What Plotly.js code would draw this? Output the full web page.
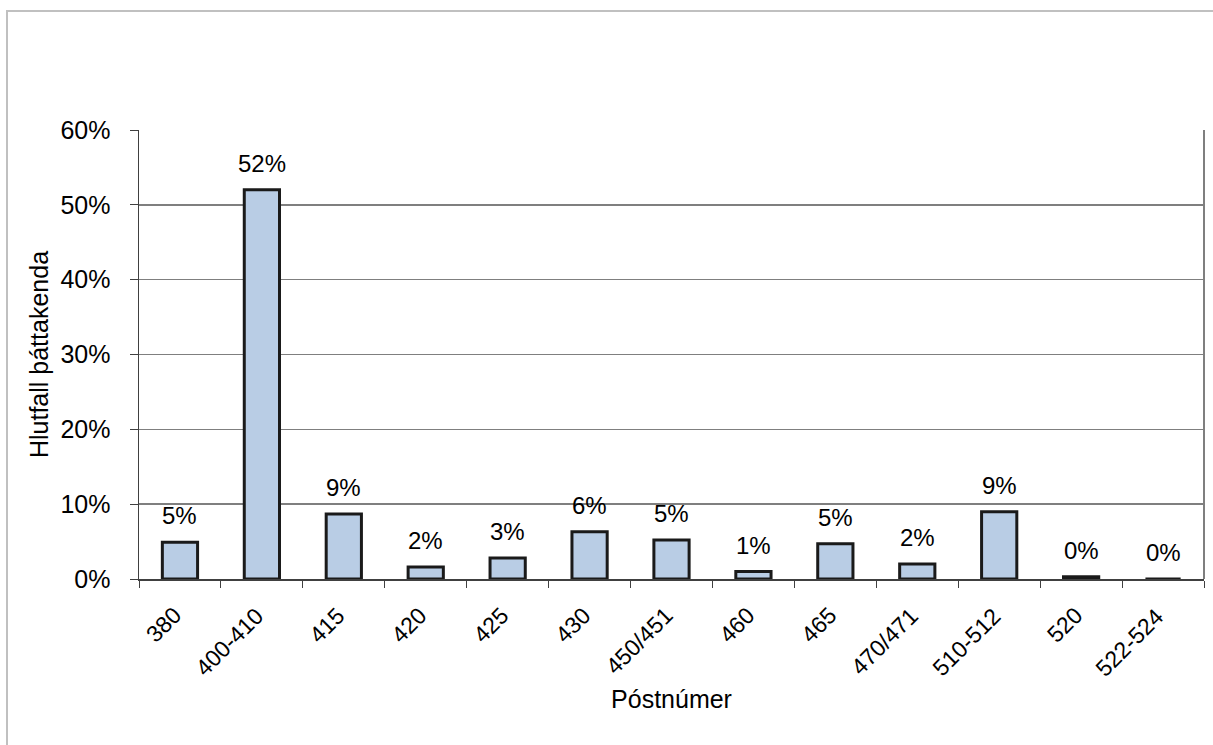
<!DOCTYPE html>
<html>
<head>
<meta charset="utf-8">
<script src="https://cdn.plot.ly/plotly-3.0.1.min.js"></script>
<style>
  html, body { margin: 0; padding: 0; background: #fff; }
  #chart { width: 1213px; height: 745px; }
</style>
</head>
<body>
<div id="chart"></div>
<script>
const categories = ["380", "400-410", "415", "420", "425", "430", "450/451", "460", "465", "470/471", "510-512", "520", "522-524"];
const shares = [0.049, 0.52, 0.087, 0.016, 0.028, 0.063, 0.052, 0.010, 0.047, 0.020, 0.090, 0.003, 0.0];
const yTickVals = [0, 0.1, 0.2, 0.3, 0.4, 0.5, 0.6];
const xTitle = "Póstnúmer";
const yTitle = "Hlutfall þáttakenda";

const W = 1213, H = 745;
const L = 139, R = W - 1204, T = 130, B = H - 579;
const pw = W - L - R, ph = H - T - B;
const px = v => (v - L) / pw;
const py = v => (H - B - v) / ph;

const font = "Liberation Sans, Arial, sans-serif";

const trace = {
  type: "bar",
  x: categories,
  y: shares,
  width: 0.43,
  marker: { color: "#b9cde5", line: { color: "#1a1a1a", width: 3 } },
  hoverinfo: "x+y"
};

const valueLabels = categories.map((c, i) => ({
  x: i, y: shares[i], xref: "x", yref: "y",
  text: Math.round(shares[i] * 100) + "%",
  showarrow: false, yanchor: "bottom", yshift: 11,
  font: { family: font, size: 24, color: "#000" }
}));

const tickLabels = categories.map((c, i) => ({
  x: i, y: 0, xref: "x", yref: "y",
  text: c, textangle: -45,
  showarrow: false, xanchor: "right", yanchor: "top",
  xshift: 9, yshift: -21,
  font: { family: font, size: 23, color: "#000" }
}));

const layout = {
  width: W, height: H,
  margin: { l: L, r: R, t: T, b: B, pad: 0 },
  paper_bgcolor: "#fff",
  plot_bgcolor: "#fff",
  showlegend: false,
  font: { family: font, size: 24, color: "#000" },
  xaxis: {
    type: "category",
    categoryorder: "array",
    categoryarray: categories,
    range: [-0.5, categories.length - 0.5],
    tickson: "boundaries",
    ticks: "outside",
    ticklen: 7,
    tickcolor: "#404040",
    showticklabels: false,
    showline: true,
    linecolor: "#404040",
    linewidth: 1.5,
    showgrid: false,
    title: { text: xTitle, font: { family: font, size: 25, color: "#000" }, standoff: 111 },
    automargin: false
  },
  yaxis: {
    range: [0, 0.6],
    tickvals: yTickVals,
    tickformat: ".0%",
    ticks: "outside",
    ticklen: 8,
    tickcolor: "#404040",
    ticklabelstandoff: 14,
    showline: true,
    linecolor: "#404040",
    linewidth: 1.5,
    showgrid: true,
    gridcolor: "#7f7f7f",
    gridwidth: 1.5,
    zeroline: false,
    tickfont: { family: font, size: 25, color: "#000" },
    title: { text: yTitle, font: { family: font, size: 25, color: "#000" }, standoff: 4 },
    automargin: false
  },
  annotations: valueLabels.concat(tickLabels),
  shapes: [
    { type: "line", xref: "paper", yref: "paper", x0: 1, x1: 1, y0: 0, y1: 1,
      line: { color: "#7f7f7f", width: 2 } },
    { type: "rect", xref: "paper", yref: "paper", layer: "below",
      x0: px(7), x1: px(1230), y0: py(770), y1: py(11),
      line: { color: "#c0c0c0", width: 2 }, fillcolor: "rgba(0,0,0,0)" }
  ]
};

Plotly.newPlot("chart", [trace], layout, { displayModeBar: false, staticPlot: true });
</script>
</body>
</html>
